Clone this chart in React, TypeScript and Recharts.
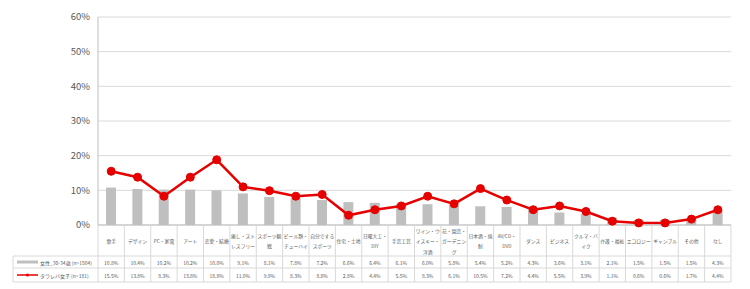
import { ComposedChart, Bar, Line, XAxis, YAxis, CartesianGrid } from "recharts";

// categories (line breaks follow the wrapping in the table header)
const categories = [
  "歌手",
  "デザイン",
  "PC・家電",
  "アート",
  "恋愛・結婚",
  "癒し・スト\nレスフリー",
  "スポーツ観\n戦",
  "ビール類・\nチューハイ",
  "自分でする\nスポーツ",
  "住宅・土地",
  "日曜大工・\nDIY",
  "手芸工芸",
  "ワイン・ウ\nイスキー・\n洋酒",
  "花・園芸・\nガーデニン\nグ",
  "日本酒・焼\n酎",
  "AV/CD・\nDVD",
  "ダンス",
  "ビジネス",
  "クルマ・バ\nイク",
  "介護・福祉",
  "エコロジー",
  "ギャンブル",
  "その他",
  "なし",
];

const womenValues = [
  10.8, 10.4, 10.2, 10.2, 10.0, 9.1, 8.1, 7.8, 7.2, 6.6, 6.4, 6.1,
  6.0, 5.8, 5.4, 5.2, 4.3, 3.6, 3.1, 2.1, 1.5, 1.5, 1.5, 4.3,
];

const tararebaValues = [
  15.5, 13.8, 8.3, 13.8, 18.8, 11.0, 9.9, 8.3, 8.8, 2.8, 4.4, 5.5,
  8.3, 6.1, 10.5, 7.2, 4.4, 5.5, 3.9, 1.1, 0.6, 0.6, 1.7, 4.4,
];

const seriesNames = ["女性_30-34歳 (n=1504)", "タラレバ女子 (n=181)"];
const yTicks = [0, 10, 20, 30, 40, 50, 60];

const data = categories.map((name, i) => ({
  name,
  women: womenValues[i],
  tara: tararebaValues[i],
}));

// layout
const W = 750;
const H = 289;
const PLOT_LEFT = 98;
const PLOT_RIGHT = 731;
const PLOT_TOP = 17;
const PLOT_BOTTOM = 225;
const BAND = (PLOT_RIGHT - PLOT_LEFT) / categories.length;
const ROW1 = 256;
const ROW2 = 268;
const TABLE_BOTTOM = 282;
const LEGEND_LEFT = 13;

const GREY = "#bfbfbf";
const BORDER = "#d9d9d9";
const RED = "#e60000";
const TEXT = "#595959";
const FONT = "'Noto Sans CJK JP', 'Noto Sans', sans-serif";

function TableTick(props: any) {
  const { x, payload } = props;
  const i = payload.index as number;
  const left = x - BAND / 2;
  const right = x + BAND / 2;
  const lines = String(payload.value).split("\n");
  const mid = (PLOT_BOTTOM + ROW1) / 2;
  const gap = 10.5;
  const firstY = mid - ((lines.length - 1) * gap) / 2;

  return (
    <g fontFamily={FONT} fontSize={5} fill={TEXT}>
      <line x1={left} x2={left} y1={PLOT_BOTTOM} y2={TABLE_BOTTOM} stroke={BORDER} />
      {i === categories.length - 1 && (
        <line x1={right} x2={right} y1={PLOT_BOTTOM} y2={TABLE_BOTTOM} stroke={BORDER} />
      )}
      {[ROW1, ROW2, TABLE_BOTTOM].map((yy) => (
        <line key={yy} x1={left} x2={right} y1={yy} y2={yy} stroke={BORDER} />
      ))}
      {lines.map((ln, k) => (
        <text key={k} x={x} y={firstY + k * gap} textAnchor="middle" dominantBaseline="central" stroke="none" fontSize={4.8}>
          {ln}
        </text>
      ))}
      <text x={x} y={(ROW1 + ROW2) / 2} textAnchor="middle" dominantBaseline="central" stroke="none">
        {womenValues[i].toFixed(1)}%
      </text>
      <text x={x} y={(ROW2 + TABLE_BOTTOM) / 2} textAnchor="middle" dominantBaseline="central" stroke="none">
        {tararebaValues[i].toFixed(1)}%
      </text>

      {i === 0 && (
        <g>
          {[ROW1, ROW2, TABLE_BOTTOM].map((yy) => (
            <line key={yy} x1={LEGEND_LEFT} x2={PLOT_LEFT} y1={yy} y2={yy} stroke={BORDER} />
          ))}
          <line x1={LEGEND_LEFT} x2={LEGEND_LEFT} y1={ROW1} y2={TABLE_BOTTOM} stroke={BORDER} />
          <rect x={17} y={(ROW1 + ROW2) / 2 - 1.5} width={21} height={3} fill={GREY} stroke="none" />
          <text x={40} y={(ROW1 + ROW2) / 2} dominantBaseline="central" stroke="none">
            {seriesNames[0]}
          </text>
          <line x1={17} x2={38} y1={(ROW2 + TABLE_BOTTOM) / 2} y2={(ROW2 + TABLE_BOTTOM) / 2} stroke={RED} strokeWidth={1.5} />
          <circle cx={27.5} cy={(ROW2 + TABLE_BOTTOM) / 2} r={1.6} fill={RED} stroke="none" />
          <text x={40} y={(ROW2 + TABLE_BOTTOM) / 2} dominantBaseline="central" stroke="none">
            {seriesNames[1]}
          </text>
        </g>
      )}
    </g>
  );
}

export default function App() {
  return (
    <div style={{ position: "absolute", left: 0, top: 0, width: W, height: H, background: "#fff" }}>
      <ComposedChart
        width={W}
        height={H}
        data={data}
        margin={{ top: PLOT_TOP, right: W - PLOT_RIGHT, bottom: 0, left: 0 }}
      >
        <CartesianGrid vertical={false} stroke={BORDER} />
        <XAxis
          dataKey="name"
          interval={0}
          height={H - PLOT_BOTTOM}
          axisLine={{ stroke: GREY }}
          tickLine={false}
          tick={<TableTick />}
        />
        <YAxis
          width={PLOT_LEFT}
          domain={[0, 60]}
          ticks={yTicks}
          tickFormatter={(v) => `${v}%`}
          axisLine={{ stroke: GREY }}
          tickLine={false}
          tick={{ fill: TEXT, fontSize: 9.5, fontFamily: FONT }}
        />
        <YAxis
          yAxisId="right"
          orientation="right"
          width={0}
          domain={[0, 60]}
          ticks={yTicks}
          tick={false}
          tickLine={false}
          axisLine={{ stroke: GREY }}
        />
        <Bar dataKey="women" fill={GREY} barSize={10} isAnimationActive={false} />
        <Line
          dataKey="tara"
          stroke={RED}
          strokeWidth={2.5}
          dot={{ r: 4, fill: RED, stroke: RED, strokeWidth: 1 }}
          isAnimationActive={false}
        />
      </ComposedChart>
    </div>
  );
}
